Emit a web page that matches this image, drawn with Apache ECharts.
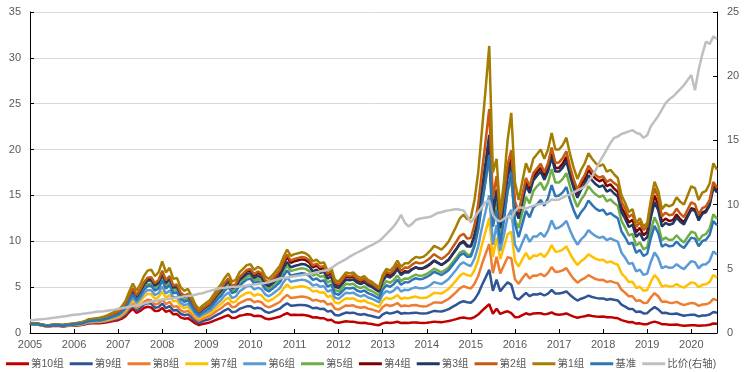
<!DOCTYPE html>
<html>
<head>
<meta charset="utf-8">
<script src="https://cdn.jsdelivr.net/npm/echarts@6/dist/echarts.min.js"></script>
<style>html,body{margin:0;padding:0;background:#fff}#c{width:744px;height:372px}</style>
</head>
<body>
<div id="c"></div>
<script>
// Monthly values, Jan 2005 .. Aug 2020 (one value per month start)
const yearTicks = [2005,2006,2007,2008,2009,2010,2011,2012,2013,2014,2015,2016,2017,2018,2019,2020];
const seriesNames = ['第10组','第9组','第8组','第7组','第6组','第5组','第4组','第3组','第2组','第1组','基准','比价(右轴)'];

const g1 = [1.10,1.02,1.05,0.96,0.88,0.84,0.90,0.95,0.92,0.89,0.95,1.00,
1.05,1.12,1.18,1.32,1.50,1.55,1.62,1.66,1.78,1.92,2.10,2.30,
2.50,2.90,3.50,4.50,5.40,4.60,5.30,6.20,6.80,6.90,6.20,6.60,
7.80,6.60,7.10,5.90,6.00,5.00,4.60,4.80,4.00,3.10,2.60,3.00,
3.30,3.60,4.20,4.80,5.30,6.00,6.50,5.60,5.80,6.60,7.00,7.40,
7.50,6.90,7.20,7.00,6.20,5.90,6.30,6.80,7.30,8.30,9.10,8.40,
8.60,8.70,8.80,8.70,8.40,7.80,8.00,7.60,7.70,6.80,7.10,5.80,
5.60,6.10,6.60,6.50,6.60,6.20,6.00,6.20,5.80,5.60,5.30,5.00,
6.30,7.00,6.80,7.20,7.90,7.20,7.60,7.60,8.00,8.30,8.20,8.30,
8.60,9.00,9.50,9.30,9.10,9.50,10.0,10.8,11.6,12.5,12.9,12.4,
12.6,14.5,17.5,22.0,26.5,31.3,17.5,19.0,13.0,16.5,21.0,24.0,
16.5,14.5,16.5,18.5,17.5,19.0,19.5,20.0,19.0,20.0,21.8,20.0,
20.0,20.5,21.3,19.5,18.0,16.8,17.8,18.5,19.6,19.0,18.5,18.2,
18.4,17.6,17.8,17.3,16.9,15.0,14.2,13.2,13.5,12.0,12.5,11.6,
12.0,14.5,16.5,15.5,13.5,14.0,13.8,14.0,14.8,14.3,14.0,15.0,
16.0,15.8,14.5,15.3,15.5,16.3,18.5,17.8];

const g2 = [1.09,1.01,1.03,0.94,0.86,0.81,0.87,0.92,0.88,0.85,0.91,0.96,
1.00,1.06,1.12,1.24,1.41,1.45,1.51,1.55,1.66,1.78,1.94,2.12,
2.30,2.66,3.19,4.08,4.88,4.14,4.74,5.52,6.03,6.09,5.44,5.77,
6.79,5.76,6.21,5.18,5.29,4.42,4.08,4.27,3.57,2.77,2.33,2.70,
2.98,3.26,3.81,4.36,4.83,5.48,5.95,5.14,5.34,6.09,6.48,6.87,
6.98,6.42,6.71,6.52,5.78,5.51,5.89,6.36,6.84,7.78,8.54,7.89,
8.08,8.19,8.29,8.20,7.93,7.37,7.56,7.19,7.29,6.45,6.74,5.51,
5.33,5.81,6.29,6.20,6.30,5.92,5.74,5.93,5.56,5.37,5.09,4.80,
6.03,6.68,6.47,6.83,7.47,6.78,7.13,7.11,7.46,7.71,7.59,7.66,
7.91,8.21,8.59,8.32,8.07,8.35,8.71,9.32,9.92,10.58,10.81,10.29,
10.36,11.79,14.09,17.53,20.88,24.41,14.70,17.10,12.48,15.13,18.33,19.92,
14.36,13.20,15.05,16.91,16.03,17.44,17.94,18.44,17.54,18.50,20.21,18.56,
18.60,19.07,19.81,18.14,16.74,15.62,16.55,17.21,18.23,17.67,17.21,16.93,
17.11,16.46,16.73,16.35,16.06,14.30,13.56,12.65,12.96,11.56,12.06,11.23,
11.64,13.96,15.79,14.73,12.73,13.12,12.83,12.92,13.57,13.01,12.64,13.46,
14.24,14.06,12.91,13.62,13.80,14.51,16.47,15.84];

const g3 = [1.08,1.00,1.02,0.93,0.85,0.81,0.86,0.91,0.88,0.85,0.90,0.95,
1.00,1.06,1.11,1.23,1.39,1.43,1.48,1.51,1.61,1.72,1.87,2.04,
2.20,2.54,3.05,3.89,4.64,3.93,4.51,5.24,5.71,5.76,5.15,5.45,
6.40,5.44,5.89,4.92,5.03,4.22,3.90,4.09,3.42,2.67,2.25,2.61,
2.87,3.13,3.65,4.18,4.61,5.22,5.66,4.87,5.05,5.74,6.09,6.44,
6.53,5.99,6.24,6.06,5.35,5.09,5.42,5.83,6.26,7.10,7.76,7.16,
7.31,7.41,7.52,7.46,7.22,6.72,6.90,6.57,6.68,5.92,6.19,5.07,
4.91,5.36,5.81,5.74,5.84,5.50,5.34,5.53,5.19,5.02,4.76,4.50,
5.64,6.24,6.05,6.37,6.96,6.31,6.63,6.60,6.92,7.15,7.04,7.09,
7.31,7.58,7.92,7.67,7.43,7.69,8.01,8.56,9.11,9.70,9.91,9.42,
9.42,10.69,12.69,15.69,18.60,21.60,13.18,15.52,11.44,13.91,16.95,18.48,
13.45,12.47,14.26,16.06,15.26,16.64,17.16,17.60,16.72,17.60,19.18,17.60,
17.60,18.04,18.72,17.14,15.80,14.75,15.61,16.22,17.19,16.64,16.21,15.93,
16.10,15.42,15.63,15.21,14.87,13.19,12.45,11.56,11.81,10.49,10.90,10.10,
10.44,12.59,14.27,13.38,11.61,12.01,11.80,11.94,12.58,12.13,11.83,12.65,
13.44,13.32,12.27,12.99,13.19,13.92,15.85,15.31];

const g4 = [1.08,1.00,1.02,0.93,0.85,0.81,0.86,0.91,0.88,0.85,0.90,0.95,
1.00,1.06,1.11,1.23,1.39,1.43,1.48,1.51,1.61,1.72,1.87,2.04,
2.20,2.55,3.06,3.93,4.70,3.99,4.58,5.35,5.85,5.92,5.30,5.63,
6.63,5.62,6.06,5.04,5.14,4.30,3.96,4.14,3.46,2.68,2.26,2.61,
2.88,3.15,3.69,4.23,4.69,5.33,5.79,5.01,5.21,5.95,6.33,6.71,
6.83,6.28,6.55,6.37,5.64,5.37,5.73,6.19,6.64,7.55,8.28,7.64,
7.83,7.93,8.03,7.95,7.69,7.15,7.34,6.98,7.08,6.27,6.55,5.36,
5.19,5.65,6.12,6.05,6.14,5.78,5.60,5.80,5.43,5.25,4.98,4.70,
5.87,6.48,6.24,6.54,7.12,6.44,6.73,6.67,6.97,7.16,7.01,7.04,
7.22,7.51,7.86,7.64,7.41,7.68,8.02,8.59,9.15,9.78,10.01,9.55,
9.45,10.59,12.43,15.18,17.76,20.35,12.90,15.64,11.83,14.36,17.43,18.96,
13.78,12.76,14.59,16.43,15.61,17.02,17.55,18.00,17.10,18.00,19.62,18.00,
18.00,18.47,19.21,17.59,16.25,15.19,16.11,16.76,17.78,17.23,16.80,16.54,
16.74,16.02,16.20,15.74,15.38,13.67,12.96,12.06,12.35,10.99,11.48,10.66,
11.04,13.25,14.98,14.00,12.11,12.47,12.21,12.31,12.92,12.41,12.07,12.84,
13.60,13.48,12.41,13.14,13.35,14.08,16.04,15.49];

const g5 = [1.06,0.97,1.00,0.91,0.83,0.79,0.84,0.88,0.85,0.81,0.86,0.91,
0.95,1.00,1.05,1.16,1.31,1.34,1.39,1.42,1.51,1.61,1.75,1.90,
2.05,2.37,2.84,3.63,4.34,3.68,4.21,4.90,5.35,5.40,4.82,5.11,
6.01,5.10,5.50,4.59,4.69,3.92,3.62,3.79,3.17,2.46,2.07,2.40,
2.65,2.90,3.39,3.88,4.30,4.88,5.30,4.58,4.76,5.43,5.78,6.13,
6.23,5.71,5.94,5.76,5.08,4.83,5.13,5.53,5.91,6.71,7.33,6.75,
6.88,6.97,7.06,6.99,6.75,6.27,6.44,6.13,6.21,5.49,5.74,4.70,
4.54,4.95,5.36,5.28,5.37,5.05,4.90,5.07,4.74,4.58,4.34,4.10,
5.13,5.66,5.47,5.75,6.26,5.67,5.94,5.91,6.17,6.36,6.23,6.27,
6.45,6.71,7.02,6.83,6.62,6.87,7.17,7.69,8.19,8.76,8.97,8.56,
8.53,9.61,11.38,14.01,16.51,19.09,11.85,14.12,10.53,12.75,15.48,16.80,
12.29,11.46,13.13,14.84,14.14,15.47,15.99,16.40,15.58,16.40,17.88,16.40,
16.40,16.81,17.44,15.97,14.72,13.74,14.54,15.11,16.01,15.50,15.10,14.83,
15.00,14.36,14.56,14.17,13.86,12.23,11.50,10.63,10.80,9.54,9.88,9.11,
9.36,11.21,12.62,11.75,10.13,10.40,10.14,10.19,10.66,10.20,9.87,10.47,
11.04,10.92,10.05,10.62,10.79,11.36,12.93,12.46];

const base = [1.05,0.96,0.99,0.90,0.82,0.78,0.83,0.87,0.84,0.81,0.86,0.90,
0.95,1.00,1.04,1.16,1.30,1.33,1.38,1.40,1.48,1.58,1.72,1.86,
2.00,2.30,2.76,3.52,4.20,3.55,4.05,4.71,5.12,5.16,4.60,4.86,
5.69,4.83,5.21,4.34,4.42,3.70,3.41,3.57,2.98,2.31,1.94,2.25,
2.48,2.72,3.19,3.66,4.05,4.61,5.02,4.34,4.51,5.15,5.49,5.82,
5.93,5.42,5.63,5.44,4.79,4.54,4.82,5.17,5.53,6.24,6.81,6.25,
6.36,6.44,6.52,6.45,6.23,5.79,5.94,5.65,5.72,5.06,5.28,4.32,
4.17,4.55,4.92,4.86,4.93,4.63,4.49,4.64,4.34,4.19,3.98,3.75,
4.71,5.21,5.04,5.31,5.81,5.27,5.54,5.52,5.78,5.97,5.87,5.92,
6.11,6.35,6.68,6.50,6.32,6.57,6.88,7.40,7.90,8.46,8.69,8.31,
8.34,9.47,11.29,14.01,16.64,19.41,11.60,13.43,9.75,12.26,15.48,17.52,
11.96,10.44,11.88,13.32,12.60,13.68,14.04,14.50,13.87,14.70,16.13,14.90,
15.00,15.33,15.91,14.53,13.37,12.47,13.17,13.65,14.45,13.97,13.56,13.32,
13.43,12.90,13.08,12.77,12.51,11.07,10.44,9.68,9.86,8.74,9.06,8.39,
8.64,10.35,11.68,10.90,9.41,9.67,9.45,9.51,9.96,9.55,9.27,9.84,
10.40,10.29,9.47,10.01,10.17,10.71,12.19,11.75];

const g6 = [1.05,0.96,0.98,0.89,0.81,0.76,0.81,0.86,0.82,0.79,0.83,0.87,
0.90,0.95,0.99,1.10,1.24,1.27,1.31,1.33,1.41,1.51,1.63,1.77,
1.90,2.18,2.60,3.29,3.90,3.28,3.74,4.32,4.67,4.67,4.14,4.35,
5.07,4.30,4.64,3.86,3.94,3.30,3.04,3.18,2.66,2.06,1.74,2.01,
2.22,2.42,2.84,3.24,3.59,4.08,4.43,3.82,3.97,4.53,4.81,5.10,
5.18,4.75,4.93,4.78,4.22,4.00,4.25,4.58,4.89,5.54,6.05,5.57,
5.68,5.74,5.82,5.75,5.56,5.16,5.30,5.04,5.11,4.51,4.71,3.86,
3.72,4.06,4.40,4.33,4.40,4.14,4.00,4.14,3.87,3.75,3.55,3.35,
4.18,4.59,4.41,4.62,5.02,4.52,4.72,4.67,4.86,4.99,4.87,4.87,
4.99,5.24,5.55,5.44,5.34,5.60,5.91,6.40,6.90,7.45,7.71,7.44,
7.31,8.12,9.45,11.44,13.25,15.02,9.63,11.78,8.97,10.68,12.66,13.44,
9.65,8.85,9.83,10.77,9.94,10.53,10.53,10.92,10.49,11.16,12.27,11.38,
11.50,11.79,12.23,11.19,10.31,9.63,10.20,10.58,11.21,10.85,10.56,10.37,
10.49,10.12,10.32,10.12,9.97,8.76,8.21,7.54,7.63,6.71,6.91,6.33,
6.48,7.77,8.78,8.18,7.06,7.27,7.11,7.15,7.50,7.19,6.97,7.41,
7.84,7.73,7.06,7.44,7.50,7.87,8.90,8.54];

const g7 = [1.02,0.94,0.97,0.87,0.80,0.76,0.81,0.85,0.81,0.78,0.83,0.87,
0.90,0.95,0.99,1.09,1.22,1.24,1.28,1.29,1.37,1.45,1.56,1.68,
1.80,2.05,2.44,3.08,3.63,3.05,3.45,3.96,4.26,4.24,3.74,3.91,
4.52,3.84,4.15,3.45,3.52,2.95,2.72,2.85,2.38,1.85,1.55,1.80,
1.98,2.15,2.51,2.87,3.16,3.57,3.87,3.33,3.44,3.91,4.14,4.37,
4.43,4.06,4.23,4.12,3.64,3.46,3.69,3.97,4.26,4.84,5.30,4.88,
4.99,5.05,5.10,5.04,4.86,4.51,4.62,4.39,4.44,3.92,4.09,3.34,
3.22,3.51,3.79,3.73,3.78,3.55,3.43,3.55,3.31,3.20,3.02,2.85,
3.53,3.86,3.69,3.84,4.14,3.71,3.85,3.77,3.90,3.97,3.84,3.81,
3.87,4.10,4.38,4.34,4.30,4.54,4.83,5.28,5.73,6.24,6.51,6.32,
6.20,6.86,7.96,9.61,11.08,12.52,8.28,10.39,8.06,9.36,10.77,11.04,
7.92,7.25,8.02,8.73,8.02,8.44,8.39,8.66,8.27,8.76,9.59,8.86,
8.90,9.10,9.44,8.64,7.96,7.41,7.83,8.12,8.58,8.32,8.08,7.94,
8.00,7.67,7.80,7.59,7.44,6.51,6.08,5.56,5.60,4.91,5.04,4.59,
4.68,5.60,6.30,5.87,5.06,5.19,5.08,5.10,5.33,5.09,4.94,5.24,
5.52,5.44,4.99,5.25,5.32,5.57,6.31,6.05];

const g8 = [1.02,0.94,0.96,0.86,0.78,0.74,0.78,0.82,0.78,0.75,0.79,0.82,
0.85,0.89,0.93,1.02,1.14,1.16,1.19,1.20,1.26,1.34,1.44,1.55,
1.65,1.87,2.20,2.76,3.22,2.67,2.99,3.40,3.62,3.57,3.11,3.21,
3.67,3.13,3.40,2.86,2.93,2.47,2.29,2.41,2.02,1.58,1.34,1.56,
1.71,1.85,2.15,2.45,2.69,3.04,3.28,2.81,2.89,3.27,3.46,3.64,
3.68,3.36,3.48,3.36,2.96,2.79,2.96,3.18,3.38,3.82,4.16,3.81,
3.87,3.92,3.97,3.92,3.80,3.53,3.62,3.44,3.49,3.09,3.22,2.64,
2.55,2.78,3.01,2.96,3.02,2.83,2.75,2.84,2.66,2.57,2.44,2.30,
2.84,3.09,2.94,3.05,3.27,2.92,3.00,2.93,3.02,3.05,2.94,2.90,
2.92,3.11,3.33,3.32,3.29,3.50,3.73,4.09,4.45,4.86,5.10,4.96,
4.85,5.37,6.21,7.48,8.61,9.70,6.53,8.30,6.50,7.38,8.25,8.16,
5.86,5.37,5.94,6.48,5.95,6.27,6.24,6.46,6.18,6.56,7.19,6.66,
6.70,6.83,7.07,6.44,5.90,5.49,5.79,5.98,6.31,6.08,5.88,5.77,
5.80,5.56,5.66,5.52,5.41,4.71,4.39,4.00,4.01,3.50,3.58,3.26,
3.30,3.90,4.34,4.00,3.40,3.44,3.31,3.28,3.39,3.19,3.04,3.17,
3.28,3.22,2.96,3.11,3.13,3.29,3.72,3.56];

const g9 = [1.01,0.93,0.95,0.85,0.77,0.73,0.78,0.82,0.78,0.75,0.79,0.82,
0.85,0.89,0.92,1.01,1.12,1.13,1.16,1.16,1.22,1.28,1.37,1.46,
1.55,1.75,2.05,2.56,2.97,2.45,2.73,3.09,3.26,3.19,2.76,2.82,
3.20,2.72,2.94,2.45,2.50,2.10,1.94,2.03,1.70,1.32,1.11,1.29,
1.41,1.53,1.77,2.01,2.20,2.47,2.65,2.27,2.33,2.63,2.77,2.91,
2.93,2.67,2.76,2.66,2.34,2.20,2.33,2.50,2.65,2.99,3.25,2.97,
3.01,3.04,3.06,3.02,2.91,2.70,2.76,2.61,2.64,2.33,2.42,1.97,
1.90,2.07,2.23,2.19,2.22,2.08,2.00,2.06,1.93,1.85,1.75,1.65,
2.04,2.23,2.11,2.20,2.36,2.11,2.18,2.14,2.19,2.22,2.15,2.12,
2.15,2.27,2.41,2.37,2.34,2.46,2.61,2.84,3.07,3.33,3.46,3.35,
3.30,3.67,4.29,5.21,6.04,6.89,4.60,5.83,4.55,5.07,5.52,5.28,
3.88,3.63,4.01,4.37,4.01,4.22,4.19,4.30,4.09,4.30,4.69,4.30,
4.30,4.39,4.54,4.15,3.82,3.54,3.74,3.87,4.08,3.93,3.83,3.75,
3.77,3.63,3.70,3.62,3.55,3.09,2.88,2.63,2.63,2.29,2.35,2.13,
2.16,2.54,2.82,2.57,2.19,2.20,2.10,2.07,2.12,1.99,1.88,1.95,
2.00,1.98,1.81,1.91,1.92,2.02,2.29,2.21];

const g10 = [1.00,0.92,0.93,0.84,0.76,0.71,0.76,0.79,0.75,0.71,0.75,0.78,
0.80,0.83,0.86,0.94,1.04,1.05,1.07,1.07,1.12,1.17,1.25,1.33,
1.40,1.57,1.84,2.29,2.65,2.18,2.41,2.72,2.86,2.78,2.39,2.43,
2.73,2.30,2.46,2.04,2.06,1.71,1.56,1.62,1.34,1.04,0.86,0.99,
1.07,1.16,1.33,1.49,1.63,1.81,1.94,1.64,1.67,1.87,1.95,2.04,
2.03,1.84,1.89,1.82,1.59,1.49,1.58,1.68,1.77,1.99,2.16,1.96,
1.98,1.97,1.98,1.93,1.85,1.69,1.71,1.61,1.61,1.40,1.45,1.17,
1.11,1.20,1.27,1.24,1.24,1.15,1.10,1.12,1.03,0.98,0.91,0.85,
1.05,1.15,1.09,1.14,1.22,1.09,1.12,1.10,1.14,1.15,1.12,1.10,
1.12,1.17,1.24,1.21,1.18,1.24,1.30,1.40,1.51,1.63,1.68,1.61,
1.58,1.74,2.01,2.42,2.78,3.13,2.10,2.66,2.08,2.26,2.37,2.16,
1.73,1.74,1.95,2.15,2.00,2.13,2.15,2.16,2.03,2.10,2.25,2.04,
2.00,2.05,2.13,1.95,1.78,1.66,1.76,1.83,1.94,1.86,1.81,1.78,
1.80,1.71,1.73,1.66,1.61,1.40,1.29,1.17,1.19,1.03,1.05,0.95,
0.96,1.13,1.24,1.13,0.96,0.95,0.91,0.90,0.92,0.84,0.80,0.83,
0.85,0.84,0.78,0.83,0.85,0.90,1.04,1.00];

const ratio = [1.00,1.02,1.05,1.08,1.10,1.13,1.17,1.20,1.24,1.28,1.32,1.38,
1.42,1.45,1.48,1.52,1.56,1.60,1.65,1.68,1.70,1.74,1.78,1.82,
1.87,1.92,1.98,2.05,2.12,2.10,2.20,2.30,2.38,2.45,2.50,2.55,
2.60,2.62,2.66,2.70,2.75,2.80,2.84,2.88,2.92,2.98,3.05,3.10,
3.20,3.28,3.36,3.45,3.50,3.52,3.56,3.58,3.60,3.63,3.65,3.70,
3.75,3.78,3.82,3.86,3.90,3.95,4.05,4.15,4.25,4.28,4.32,4.38,
4.42,4.46,4.50,4.55,4.60,4.65,4.72,4.80,4.85,4.90,5.05,5.25,
5.45,5.60,5.75,5.95,6.10,6.25,6.40,6.55,6.70,6.85,7.00,7.15,
7.40,7.70,8.00,8.30,8.70,9.20,8.60,8.30,8.50,8.80,8.90,8.95,
9.00,9.05,9.20,9.35,9.40,9.50,9.55,9.60,9.65,9.60,9.55,9.10,
8.60,9.00,9.40,9.80,10.20,10.30,9.20,8.80,8.70,8.90,9.10,8.90,
9.50,9.80,9.75,9.70,9.80,9.90,10.00,10.05,10.10,10.20,10.40,10.35,
10.40,10.55,10.70,10.80,10.95,11.10,11.25,11.40,11.80,12.20,12.70,13.30,
13.80,14.30,14.80,15.20,15.30,15.50,15.60,15.70,15.80,15.60,15.50,15.20,
15.40,16.10,16.50,16.90,17.40,17.90,18.20,18.40,18.70,19.00,19.30,19.70,
20.10,18.90,20.50,21.70,22.70,22.50,23.10,22.90];

const colors = ['#C00000','#2F5597','#ED7D31','#FFC000','#5B9BD5','#70AD47','#7B0000','#1F3864','#C55A11','#A47E00','#2E75B6','#BFBFBF'];
const dataArrays = [g10,g9,g8,g7,g6,g5,g4,g3,g2,g1,base,ratio];

const monthPos = g1.map((_, i) => yearTicks[0] + i / 12);
const xMax = monthPos[monthPos.length - 1];

const FONT = 'Helvetica, Arial, "Liberation Sans", "Noto Sans CJK SC", sans-serif';

const series = dataArrays.map((arr, k) => ({
  name: seriesNames[k],
  type: 'line',
  yAxisIndex: k === 11 ? 1 : 0,
  data: arr.map((v, i) => [monthPos[i], v]),
  showSymbol: false,
  symbol: 'none',
  lineStyle: { width: 2.5, color: colors[k] },
  itemStyle: { color: colors[k] },
  emphasis: { disabled: true },
  z: 2 + k
}));

const chart = echarts.init(document.getElementById('c'), null, { renderer: 'canvas' });
chart.setOption({
  animation: false,
  backgroundColor: '#fff',
  textStyle: { fontFamily: FONT },
  grid: { left: 30, right: 27, top: 12, bottom: 39, containLabel: false },
  legend: {
    data: seriesNames,
    left: 6,
    right: 0,
    bottom: 3,
    icon: 'rect',
    itemWidth: 23,
    itemHeight: 3,
    itemGap: 6,
    padding: 0,
    textStyle: { fontSize: 10.5, color: '#595959', fontFamily: FONT, padding: [0, 0, 0, -3] }
  },
  xAxis: {
    type: 'value',
    min: yearTicks[0],
    max: xMax,
    interval: 1,
    axisLine: { show: true, lineStyle: { color: '#000', width: 1 } },
    axisTick: { show: true, inside: true, length: 4, lineStyle: { color: '#000' } },
    axisLabel: { show: true, margin: 6, color: '#595959', fontSize: 11, showMaxLabel: false,
      formatter: v => (yearTicks.indexOf(Math.round(v)) >= 0 && Math.abs(v - Math.round(v)) < 1e-6) ? String(Math.round(v)) : '' },
    splitLine: { show: false }
  },
  yAxis: [{
    type: 'value', min: 0, max: 35, interval: 5,
    axisLine: { show: true, lineStyle: { color: '#000', width: 1 } },
    axisTick: { show: true, inside: true, length: 4, lineStyle: { color: '#000' } },
    axisLabel: { color: '#595959', fontSize: 11, margin: 9 },
    splitLine: { show: true, lineStyle: { color: '#D9D9D9', width: 1 } }
  }, {
    type: 'value', min: 0, max: 25, interval: 5, position: 'right',
    axisLine: { show: true, lineStyle: { color: '#000', width: 1 } },
    axisTick: { show: true, inside: true, length: 4, lineStyle: { color: '#000' } },
    axisLabel: { color: '#595959', fontSize: 11, margin: 10 },
    splitLine: { show: false }
  }],
  series: series
});
</script>
</body>
</html>
